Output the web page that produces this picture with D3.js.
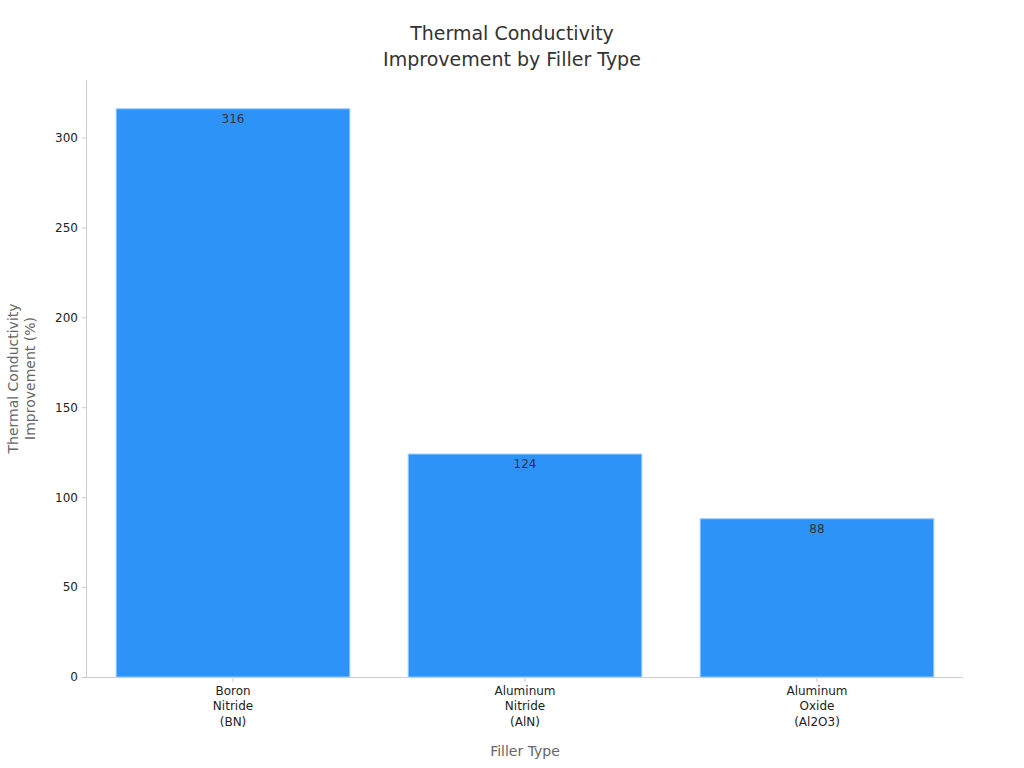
<!DOCTYPE html>
<html>
<head>
<meta charset="utf-8">
<script src="https://cdn.jsdelivr.net/npm/d3@7"></script>
<style>
  body { margin: 0; background: #fff; font-family: "DejaVu Sans", sans-serif; }
</style>
</head>
<body>
<div id="chart"></div>
<script>
// data
const categories = ["Boron\nNitride\n(BN)", "Aluminum\nNitride\n(AlN)", "Aluminum\nOxide\n(Al2O3)"];
const values = [316, 124, 88];
const yTicks = [0, 50, 100, 150, 200, 250, 300];

const width = 1024, height = 768;
const margin = {top: 80, right: 61, bottom: 91, left: 87};

const svg = d3.select("#chart").append("svg")
    .attr("width", width)
    .attr("height", height);

const x = d3.scaleBand()
    .domain(categories)
    .range([margin.left, width - margin.right])
    .paddingInner(0.2)
    .paddingOuter(0.1);

const y = d3.scaleLinear()
    .domain([0, 332])
    .range([height - margin.bottom, margin.top]);

// title
svg.append("text")
    .attr("x", 512).attr("y", 40)
    .attr("text-anchor", "middle")
    .style("font-size", "19px").style("fill", "#333")
    .selectAll("tspan")
    .data(["Thermal Conductivity", "Improvement by Filler Type"])
    .join("tspan")
      .attr("x", 512)
      .attr("dy", (d, i) => i ? 26 : 0)
      .text(d => d);

// bars
svg.selectAll("rect.bar")
  .data(values)
  .join("rect")
    .attr("class", "bar")
    .attr("x", (d, i) => x(categories[i]))
    .attr("y", d => y(d))
    .attr("width", x.bandwidth())
    .attr("height", d => y(0) - y(d))
    .attr("fill", "#2E93F8")
    .attr("stroke", "#9CCBFB")
    .attr("stroke-width", 1);

svg.selectAll("text.val")
  .data(values)
  .join("text")
    .attr("class", "val")
    .attr("x", (d, i) => x(categories[i]) + x.bandwidth() / 2)
    .attr("y", d => y(d) + 14)
    .attr("text-anchor", "middle")
    .style("font-size", "12px").style("fill", "#333")
    .text(d => d);

// y axis
const yAxis = svg.append("g")
    .attr("transform", `translate(${margin.left},0)`)
    .call(d3.axisLeft(y).tickValues(yTicks).tickSize(5).tickPadding(4));
yAxis.selectAll("path, line").attr("stroke", "#ccc");
yAxis.select(".domain").attr("d", `M-0.5,${y(0)}V${margin.top}`);
yAxis.selectAll("text").style("font-size", "12px").style("fill", "#222")
    .style("font-family", "DejaVu Sans, sans-serif");

// x axis
const xAxis = svg.append("g")
    .attr("transform", `translate(0,${y(0)})`)
    .call(d3.axisBottom(x).tickSize(5).tickPadding(4));
xAxis.selectAll("path, line").attr("stroke", "#ccc");
xAxis.select(".domain").attr("d", `M${margin.left},0.5H${width - margin.right}`);
xAxis.selectAll("text").style("font-size", "12px").style("fill", "#222")
    .style("font-family", "DejaVu Sans, sans-serif")
    .each(function(d) {
        const t = d3.select(this);
        t.text(null);
        d.split("\n").forEach((line, i) => {
            t.append("tspan").attr("x", 0).attr("dy", i ? "1.3em" : "0.71em").text(line);
        });
    });

// axis titles
svg.append("text")
    .attr("x", (margin.left + width - margin.right) / 2)
    .attr("y", 756)
    .attr("text-anchor", "middle")
    .style("font-size", "14px").style("fill", "#666")
    .text("Filler Type");

svg.append("text")
    .attr("transform", `translate(18,${(margin.top + y(0)) / 2}) rotate(-90)`)
    .attr("text-anchor", "middle")
    .style("font-size", "14px").style("fill", "#666")
    .selectAll("tspan")
    .data(["Thermal Conductivity", "Improvement (%)"])
    .join("tspan")
      .attr("x", 0)
      .attr("dy", (d, i) => i ? 17 : 0)
      .text(d => d);
</script>
</body>
</html>
